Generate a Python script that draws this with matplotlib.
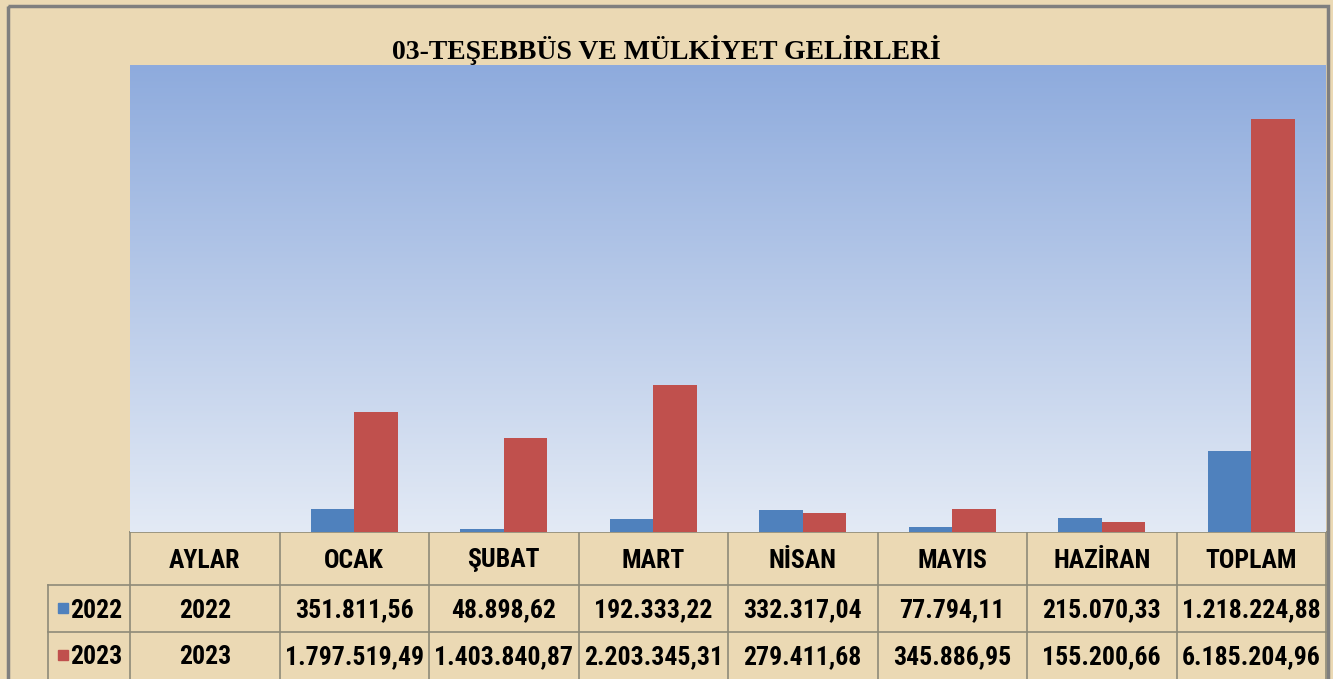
import numpy as np
import matplotlib
matplotlib.use("Agg")
import matplotlib.pyplot as plt
from matplotlib.lines import Line2D
from matplotlib.patches import Rectangle
from matplotlib.colors import LinearSegmentedColormap

# data
categories = ["AYLAR", "OCAK", "ŞUBAT", "MART", "NİSAN", "MAYIS", "HAZİRAN", "TOPLAM"]
series_names = ["2022", "2023"]
values_2022 = [2022, 351811.56, 48898.62, 192333.22, 332317.04, 77794.11, 215070.33, 1218224.88]
values_2023 = [2023, 1797519.49, 1403840.87, 2203345.31, 279411.68, 345886.95, 155200.66, 6185204.96]
colors = ["#4f81bd", "#c0504d"]
title = "03-TEŞEBBÜS VE MÜLKİYET GELİRLERİ"


def fmt_tr(v):
    # turkish number style: 1.234.567,89
    if float(v).is_integer() and v < 10000:
        return str(int(v))
    s = f"{v:,.2f}"
    return s.replace(",", "X").replace(".", ",").replace("X", ".")


W, H = 1333, 679
fig = plt.figure(figsize=(W / 100, H / 100), dpi=100)
fig.patch.set_facecolor("#ebd9b4")

# pixel overlay for frame and table
ov = fig.add_axes([0, 0, 1, 1])
ov.set_xlim(0, W)
ov.set_ylim(H, 0)
ov.axis("off")
ov.add_patch(Rectangle((8, 6), 1320, 700, fill=False, edgecolor="#7f7f7f", lw=2.5))

# plot area
px_left, px_right, px_top, px_bottom = 130, 1326, 65, 532
ax = fig.add_axes([px_left / W, 1 - px_bottom / H, (px_right - px_left) / W, (px_bottom - px_top) / H])
ax.set_zorder(2)

grad = np.linspace(0, 1, 256).reshape(-1, 1)
cmap = LinearSegmentedColormap.from_list("bg", ["#e3eaf5", "#8eabdd"])
ax.imshow(grad, aspect="auto", cmap=cmap, origin="lower",
          extent=[-0.5, len(categories) - 0.5, 0, 7000000], zorder=0)

x = np.arange(len(categories))
bw = 0.29
ax.bar(x - bw / 2, values_2022, bw, color=colors[0], zorder=2)
ax.bar(x + bw / 2, values_2023, bw, color=colors[1], zorder=2)
ax.set_xlim(-0.5, len(categories) - 0.5)
ax.set_ylim(0, 7000000)
ax.set_xticks([])
ax.set_yticks([])
for s in ax.spines.values():
    s.set_visible(False)

fig.text(0.5, 1 - 50 / H, title, ha="center", va="center",
         fontsize=20, fontweight="bold", family=["Liberation Serif", "DejaVu Serif"])

# data table under the chart
line_c = "#8e8a78"
n = len(categories)
cell_w = (px_right - px_left) / n
xb = [px_left + i * cell_w for i in range(n + 1)]
row_y = [532, 585, 632, 679]
lab_x = 48
font = ["Roboto Condensed", "Archivo Narrow", "DejaVu Sans"]
fs = 18.5
fw = "bold"

for xv in xb:
    ov.add_line(Line2D([xv, xv], [row_y[0], H], color=line_c, lw=1.2))
ov.add_line(Line2D([lab_x, lab_x], [row_y[1], H], color=line_c, lw=1.2))
ov.add_line(Line2D([px_left, px_right], [row_y[0], row_y[0]], color=line_c, lw=1.2))
for yv in row_y[1:3]:
    ov.add_line(Line2D([lab_x, px_right], [yv, yv], color=line_c, lw=1.2))

for i, c in enumerate(categories):
    cx = (xb[i] + xb[i + 1]) / 2
    ov.text(cx, (row_y[0] + row_y[1]) / 2 + 2, c, ha="center", va="center",
            fontsize=fs, family=font, fontweight=fw)
    ov.text(cx, (row_y[1] + row_y[2]) / 2 + 2, fmt_tr(values_2022[i]), ha="center", va="center",
            fontsize=fs, family=font, fontweight=fw)
    ov.text(cx, (row_y[2] + row_y[3]) / 2 + 2, fmt_tr(values_2023[i]), ha="center", va="center",
            fontsize=fs, family=font, fontweight=fw)

for r, (name, col) in enumerate(zip(series_names, colors)):
    yc = (row_y[r + 1] + row_y[r + 2]) / 2
    ov.add_patch(Rectangle((58, yc - 6), 10, 10, color=col))
    ov.text(70, yc + 2, name, ha="left", va="center", fontsize=fs, family=font, fontweight=fw)

fig.savefig("out.png", dpi=100, facecolor=fig.get_facecolor())
